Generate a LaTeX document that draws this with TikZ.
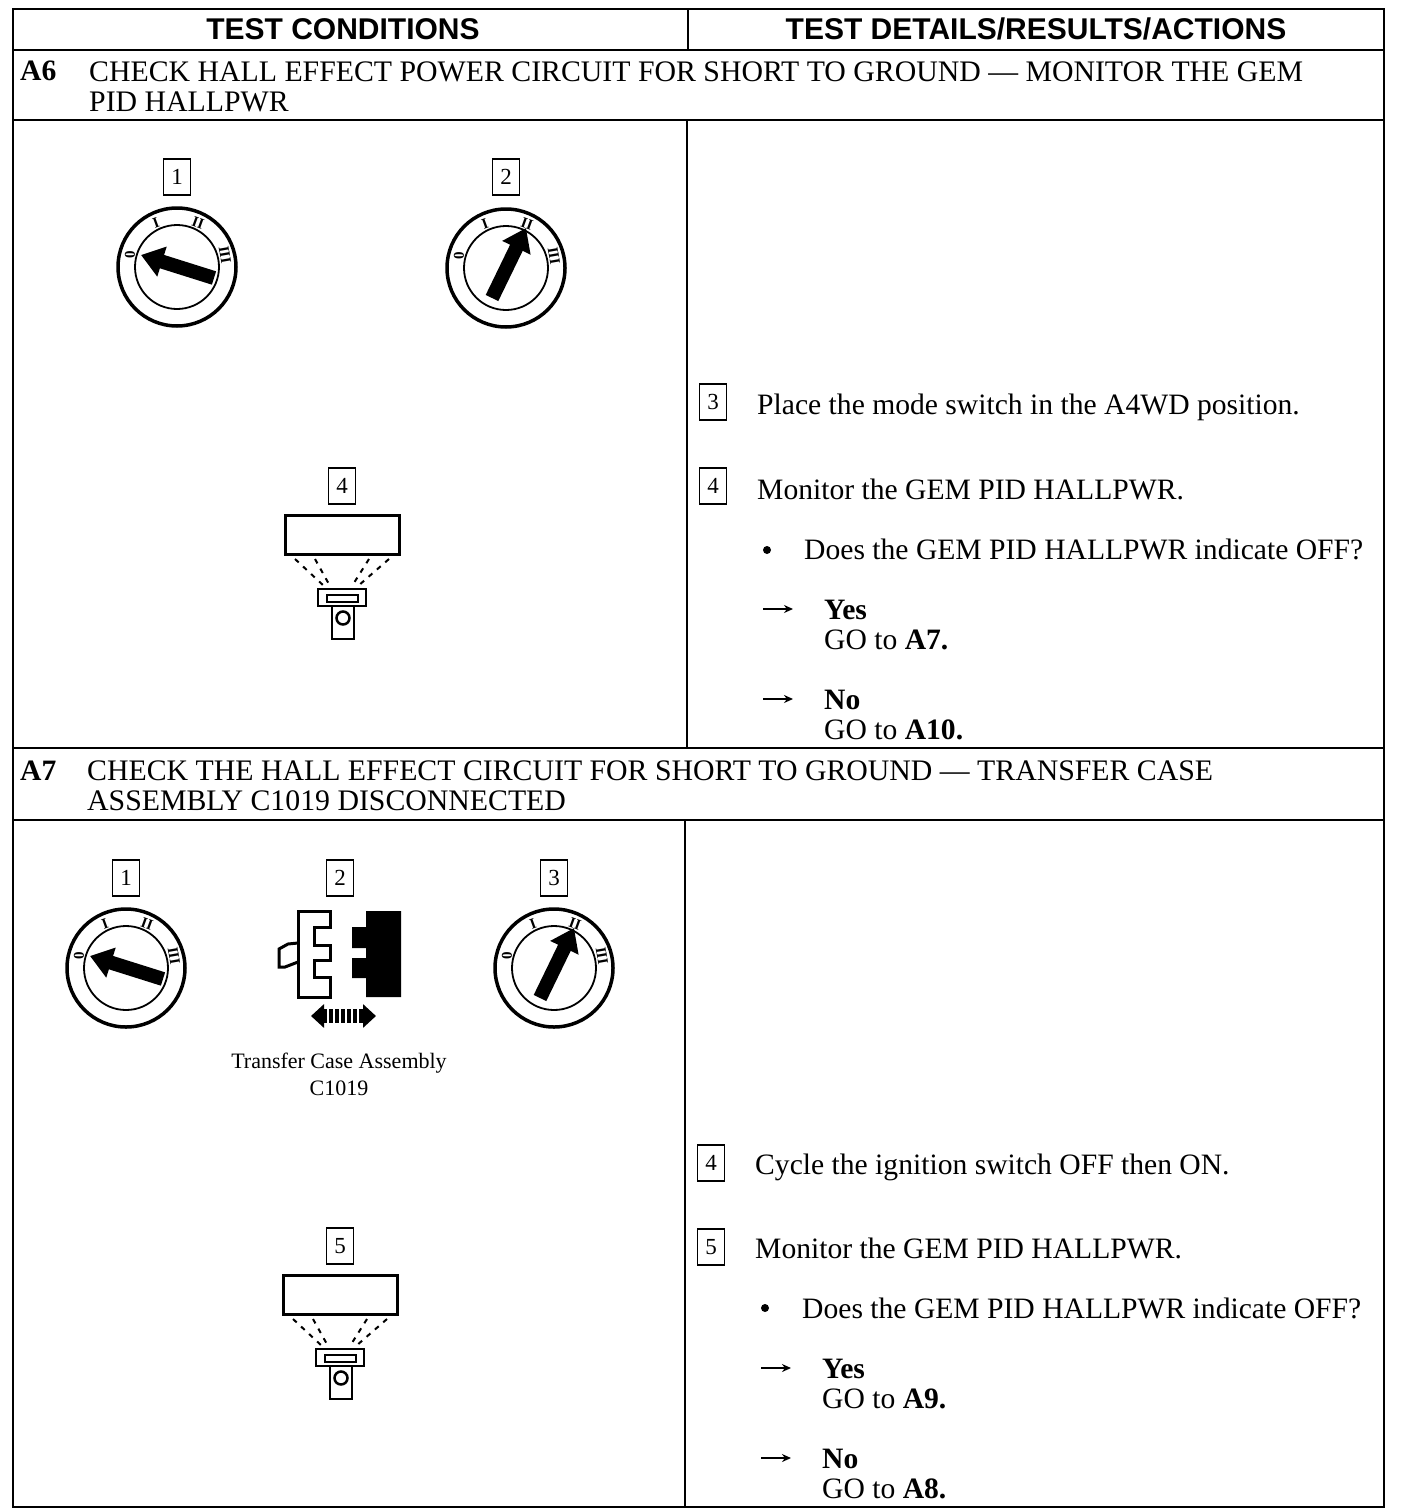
\documentclass[tikz,border=0pt]{standalone}
\usepackage{fontspec}
\setmainfont{Liberation Serif}
\newfontfamily\headfont{Liberation Sans}
\usetikzlibrary{arrows.meta, positioning}

\tikzset{
  dialarrow/.style={
    line width=14pt,
    -{Triangle[length=22pt,width=30pt]},
    draw=black
  },
  diallabel/.style={
    font=\bfseries\fontsize{15}{15}\selectfont,
    inner sep=0pt
  },
  offdial/.pic={
    \draw[line width=3.5pt] (0,0) circle[radius=59];
    \draw[line width=1.8pt] (0,0) circle[radius=42];
    \node[diallabel, rotate=90] (-zero) at (-47,-12) {0};
    \node[diallabel, rotate=20] (-one) at (-21,-44) {I};
    \node[diallabel, rotate=-20] (-two) at (21,-44) {II};
    \node[diallabel, rotate=-80] (-three) at (48,-12) {III};
    \draw[dialarrow] (37,11) -- (-36,-12);
  },
  ondial/.pic={
    \draw[line width=3.5pt] (0,0) circle[radius=59];
    \draw[line width=1.8pt] (0,0) circle[radius=42];
    \node[diallabel, rotate=90] (-zero) at (-47,-12) {0};
    \node[diallabel, rotate=20] (-one) at (-21,-44) {I};
    \node[diallabel, rotate=-20] (-two) at (21,-44) {II};
    \node[diallabel, rotate=-80] (-three) at (48,-12) {III};
    \draw[dialarrow] (-14,30) -- (20,-40);
  },
  scantool/.pic={
    \draw[line width=3pt] (-57,-44) rectangle (57,-5);
    \draw[line width=2pt, dash pattern=on 5pt off 6pt] (-47,0) -- (-18,27);
    \draw[line width=2pt, dash pattern=on 5pt off 6pt] (-27,0) -- (-12,27);
    \draw[line width=2pt, dash pattern=on 5pt off 6pt] (27,0) -- (10,27);
    \draw[line width=2pt, dash pattern=on 5pt off 6pt] (47,0) -- (16,27);
    \draw[line width=2.5pt] (-24,30) rectangle (24,47);
    \draw[line width=2.5pt] (-15,36) rectangle (16,43);
    \draw[line width=2.5pt] (-10,47) -- (-10,80) -- (12,80) -- (12,47);
    \draw[line width=2.5pt] (1,59) circle[radius=6.5];
  },
  callout/.style={
    rectangle,
    draw=black,
    line width=1.6pt,
    minimum width=27pt,
    minimum height=36pt,
    inner sep=0pt,
    font=\fontsize{23}{23}\selectfont
  },
  headtext/.style={
    font=\headfont\bfseries\fontsize{30}{30}\selectfont,
    inner sep=0pt,
    anchor=base
  },
  titletext/.style={
    font=\fontsize{29.8}{30}\selectfont,
    inner sep=0pt,
    align=left,
    anchor=north west
  },
  bodytext/.style={
    font=\fontsize{29.6}{30}\selectfont,
    inner sep=0pt,
    align=left,
    anchor=base west
  },
  partlabel/.style={
    font=\fontsize{22}{27}\selectfont,
    inner sep=0pt,
    align=center
  },
  tablerule/.style={
    line width=2pt,
    draw=black
  },
  goarrow/.style={
    -{Stealth[length=9pt,width=8pt]},
    line width=2pt,
    draw=black
  },
  bulletdot/.style={
    circle,
    fill=black,
    minimum size=8pt,
    inner sep=0pt
  }
}

\begin{document}
\begin{tikzpicture}[x=1pt, y=-1pt]

\useasboundingbox (0,0) rectangle (1408,1512);

% table rules
\draw[tablerule] (13,9) rectangle (1384,1507);
\draw[tablerule] (13,50) -- (1384,50);
\draw[tablerule, line width=2.6pt] (13,120) -- (1384,120);
\draw[tablerule, line width=2.6pt] (13,748) -- (1384,748);
\draw[tablerule, line width=2.6pt] (13,820) -- (1384,820);
\draw[tablerule] (688,9) -- (688,50);
\draw[tablerule] (687,120) -- (687,748);
\draw[tablerule] (685,820) -- (685,1507);

% header
\node[headtext] (conditions) at (343,40) {TEST CONDITIONS};
\node[headtext] (details) at (1036,40) {TEST DETAILS/RESULTS/ACTIONS};

% A6
\node[bodytext] (a6tag) at (20,81) {\textbf{A6}};
\node[titletext] (a6title) at (89,62) {CHECK HALL EFFECT POWER CIRCUIT FOR SHORT TO GROUND --- MONITOR THE GEM\\PID HALLPWR};

\node[callout] (a6c1) at (177,177) {1};
\node[callout] (a6c2) at (506,177) {2};
\pic (a6dial1) at (177,267) {offdial};
\pic (a6dial2) at (506,268) {ondial};
\node[callout] (a6c4) at (342,486) {4};
\pic (a6scan) at (342,559) {scantool};

\node[callout] (a6s3) at (713,402) {3};
\node[bodytext] (a6t3) at (757,414) {Place the mode switch in the A4WD position.};
\node[callout] (a6s4) at (713,486) {4};
\node[bodytext] (a6t4) at (757,499) {Monitor the GEM PID HALLPWR.};
\node[bulletdot] (a6dot) at (767,550) {};
\node[bodytext] (a6q) at (804,559) {Does the GEM PID HALLPWR indicate OFF?};
\node[bodytext] (a6yes) at (824,649) {\textbf{Yes}\\GO to \textbf{A7.}};
\node[bodytext] (a6no) at (824,739) {\textbf{No}\\GO to \textbf{A10.}};
\coordinate (a6yesa) at (763,609);
\coordinate (a6yesb) at (793,609);
\coordinate (a6noa) at (763,699);
\coordinate (a6nob) at (793,699);
\draw[goarrow] (a6yesa) -- (a6yesb);
\draw[goarrow] (a6noa) -- (a6nob);

% A7
\node[bodytext] (a7tag) at (20,780) {\textbf{A7}};
\node[titletext] (a7title) at (87,761) {CHECK THE HALL EFFECT CIRCUIT FOR SHORT TO GROUND --- TRANSFER CASE\\ASSEMBLY C1019 DISCONNECTED};

\node[callout] (a7c1) at (126,878) {1};
\node[callout] (a7c2) at (340,878) {2};
\node[callout] (a7c3) at (554,878) {3};
\pic (a7dial1) at (126,968) {offdial};
\pic (a7dial3) at (554,968) {ondial};

% connector halves
\draw[line width=3pt, line join=miter] (298,911) -- (330,911) -- (330,927) -- (314,927) -- (314,945) -- (330,945)
  -- (330,960) -- (314,960) -- (314,977) -- (330,977) -- (330,997) -- (298,997) -- cycle;
\draw[line width=3pt] (298,943) -- (288,944) -- (279,949) -- (279,967) -- (285,967) -- (298,962);
\fill[black] (366,911) -- (401,911) -- (401,997) -- (366,997) -- (366,978) -- (352,978) -- (352,958) -- (366,958)
  -- (366,948) -- (352,948) -- (352,927) -- (366,927) -- cycle;
\coordinate (a7pulla) at (311,1016);
\coordinate (a7pullb) at (376,1016);
\draw[line width=14pt, dash pattern=on 4pt off 2pt,
  {Triangle[length=13pt,width=23pt]}-{Triangle[length=13pt,width=23pt]}] (a7pulla) -- (a7pullb);
\node[partlabel] (a7part) at (339,1074) {Transfer Case Assembly\\C1019};

\node[callout] (a7c5) at (340,1246) {5};
\pic (a7scan) at (340,1319) {scantool};

\node[callout] (a7s4) at (711,1163) {4};
\node[bodytext] (a7t4) at (755,1174) {Cycle the ignition switch OFF then ON.};
\node[callout] (a7s5) at (711,1247) {5};
\node[bodytext] (a7t5) at (755,1258) {Monitor the GEM PID HALLPWR.};
\node[bulletdot] (a7dot) at (765,1308) {};
\node[bodytext] (a7q) at (802,1318) {Does the GEM PID HALLPWR indicate OFF?};
\node[bodytext] (a7yes) at (822,1408) {\textbf{Yes}\\GO to \textbf{A9.}};
\node[bodytext] (a7no) at (822,1498) {\textbf{No}\\GO to \textbf{A8.}};
\coordinate (a7yesa) at (761,1368);
\coordinate (a7yesb) at (791,1368);
\coordinate (a7noa) at (761,1458);
\coordinate (a7nob) at (791,1458);
\draw[goarrow] (a7yesa) -- (a7yesb);
\draw[goarrow] (a7noa) -- (a7nob);

\end{tikzpicture}
\end{document}
